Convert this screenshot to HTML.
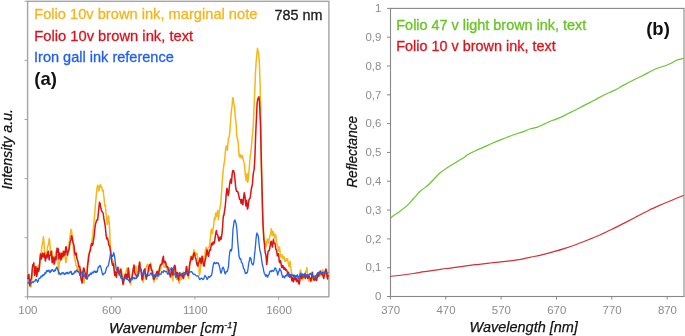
<!DOCTYPE html>
<html><head><meta charset="utf-8"><style>
html,body{margin:0;padding:0;background:#fff;width:685px;height:336px;overflow:hidden}
svg{display:block;will-change:transform}
text{font-family:"Liberation Sans",sans-serif}
.tk{font-size:10.9px;fill:#8c8c8c}
.lg{font-size:15px;stroke-width:0.3px}
.pl{font-size:18.5px;font-weight:bold;fill:#111}
.ax{font-size:14.5px;font-style:italic;fill:#111;stroke:#111;stroke-width:0.25px}
</style></head><body>
<svg width="685" height="336" viewBox="0 0 685 336">
<rect width="685" height="336" fill="#fff"/>
<rect x="27.6" y="1.3" width="301.29999999999995" height="295.5" fill="none" stroke="#a6a6a6" stroke-width="1.45"/>
<line x1="24.5" y1="1.30" x2="27.6" y2="1.30" stroke="#a6a6a6" stroke-width="1"/>
<line x1="24.5" y1="60.40" x2="27.6" y2="60.40" stroke="#a6a6a6" stroke-width="1"/>
<line x1="24.5" y1="119.50" x2="27.6" y2="119.50" stroke="#a6a6a6" stroke-width="1"/>
<line x1="24.5" y1="178.60" x2="27.6" y2="178.60" stroke="#a6a6a6" stroke-width="1"/>
<line x1="24.5" y1="237.70" x2="27.6" y2="237.70" stroke="#a6a6a6" stroke-width="1"/>
<line x1="24.5" y1="296.80" x2="27.6" y2="296.80" stroke="#a6a6a6" stroke-width="1"/>
<line x1="27.50" y1="296.8" x2="27.50" y2="299.5" stroke="#a6a6a6" stroke-width="1"/>
<text transform="translate(27.90,314.0) scale(1.06,1)" text-anchor="middle" class="tk">100</text>
<line x1="111.20" y1="296.8" x2="111.20" y2="299.5" stroke="#a6a6a6" stroke-width="1"/>
<text transform="translate(111.60,314.0) scale(1.06,1)" text-anchor="middle" class="tk">600</text>
<line x1="194.90" y1="296.8" x2="194.90" y2="299.5" stroke="#a6a6a6" stroke-width="1"/>
<text transform="translate(195.30,314.0) scale(1.06,1)" text-anchor="middle" class="tk">1100</text>
<line x1="278.60" y1="296.8" x2="278.60" y2="299.5" stroke="#a6a6a6" stroke-width="1"/>
<text transform="translate(279.00,314.0) scale(1.06,1)" text-anchor="middle" class="tk">1600</text>
<path d="M27.50,283.00 L28.00,283.10 L28.63,282.50 L29.27,285.13 L29.90,284.10 L30.40,284.43 L30.90,287.00 L31.53,282.98 L32.17,274.59 L32.80,270.60 L33.43,271.93 L34.07,271.25 L34.70,272.50 L35.37,272.34 L36.03,267.67 L36.70,266.70 L37.15,269.08 L37.60,269.60 L38.27,265.34 L38.93,266.33 L39.60,262.80 L40.25,256.18 L40.90,253.10 L41.43,251.17 L41.97,245.21 L42.50,243.50 L42.95,240.91 L43.40,236.70 L43.90,241.51 L44.40,249.30 L44.90,253.02 L45.40,253.10 L45.85,252.77 L46.30,255.10 L46.80,253.84 L47.30,249.30 L47.80,245.81 L48.30,245.40 L48.75,242.69 L49.20,238.60 L49.70,241.29 L50.20,247.30 L50.70,252.63 L51.20,255.10 L51.65,252.13 L52.10,251.20 L52.60,257.14 L53.10,261.80 L53.60,261.46 L54.10,264.75 L54.55,264.09 L55.00,260.90 L55.50,254.44 L56.00,251.20 L56.50,254.48 L57.00,254.10 L57.45,254.95 L57.90,259.00 L58.50,274.40 L59.30,262.80 L59.90,261.79 L60.50,257.00 L61.15,256.85 L61.80,259.00 L62.30,256.82 L62.80,251.20 L63.30,251.93 L63.80,255.10 L64.25,256.01 L64.70,253.10 L65.20,256.12 L65.70,262.80 L66.20,261.64 L66.70,259.00 L67.15,255.26 L67.60,253.10 L68.10,252.10 L68.60,249.30 L69.10,242.50 L69.60,239.60 L70.05,236.96 L70.50,231.90 L71.00,229.42 L71.50,229.90 L72.00,234.82 L72.50,237.70 L72.95,242.19 L73.40,249.30 L73.90,254.29 L74.40,257.00 L74.90,258.31 L75.40,261.80 L75.85,265.17 L76.30,265.70 L76.80,266.23 L77.30,269.60 L77.80,270.02 L78.30,266.70 L78.75,268.05 L79.20,272.50 L79.70,272.95 L80.20,269.60 L80.70,270.20 L81.20,274.40 L81.65,278.34 L82.10,278.30 L82.60,273.36 L83.10,271.50 L83.60,278.13 L84.10,283.10 L84.55,276.50 L85.00,273.50 L85.50,276.90 L86.00,276.40 L86.50,272.58 L87.00,272.50 L87.45,267.15 L87.90,259.00 L88.40,255.45 L88.90,255.10 L89.40,254.05 L89.90,251.20 L90.53,246.20 L91.17,246.14 L91.80,241.50 L92.35,238.05 L92.90,236.60 L93.20,230.00 L94.00,221.70 L94.70,214.20 L95.40,205.30 L96.20,196.40 L96.90,188.90 L97.70,185.20 L98.40,187.40 L98.90,191.20 L99.60,186.00 L100.00,185.94 L100.40,184.50 L101.10,187.40 L101.70,186.70 L102.40,191.20 L103.20,190.40 L103.60,194.90 L104.00,196.80 L104.40,202.30 L104.80,206.00 L105.40,205.30 L105.90,212.00 L106.60,217.20 L107.30,224.60 L108.10,218.70 L108.50,215.70 L109.10,221.70 L109.70,230.00 L110.30,246.00 L110.80,249.60 L111.45,256.99 L112.10,260.40 L112.75,260.48 L113.40,262.00 L114.10,266.00 L114.65,269.72 L115.20,270.00 L115.80,270.18 L116.40,272.70 L117.15,270.56 L117.90,266.80 L118.60,268.39 L119.30,272.00 L120.05,272.58 L120.80,269.80 L121.55,271.08 L122.30,276.00 L123.05,280.26 L123.80,283.20 L124.55,277.14 L125.30,274.00 L126.05,271.81 L126.80,268.30 L127.55,268.54 L128.30,272.00 L129.10,271.80 L129.85,279.16 L130.60,284.40 L131.35,277.77 L132.10,274.80 L132.85,273.77 L133.60,268.80 L134.33,266.49 L135.07,268.80 L135.80,265.80 L136.55,270.37 L137.30,277.00 L138.05,275.11 L138.80,271.80 L139.40,265.91 L140.00,262.90 L140.75,267.99 L141.50,271.80 L142.10,274.39 L142.70,279.90 L143.30,282.20 L144.05,275.15 L144.80,271.00 L145.53,269.97 L146.25,267.30 L146.97,265.14 L147.70,264.30 L148.45,269.46 L149.20,271.00 L149.95,265.91 L150.70,262.90 L151.45,268.19 L152.20,269.60 L152.80,271.94 L153.40,279.13 L154.00,282.20 L154.75,277.26 L155.50,274.80 L156.25,278.33 L157.00,279.20 L157.63,274.50 L158.27,274.23 L158.90,269.60 L159.65,268.57 L160.40,270.30 L161.15,266.57 L161.90,259.90 L162.65,260.18 L163.40,264.30 L164.15,267.11 L164.90,267.30 L165.60,264.60 L166.30,264.30 L167.05,269.26 L167.80,271.00 L168.55,268.42 L169.30,267.70 L169.90,273.67 L170.50,277.60 L171.05,271.93 L171.60,270.20 L172.25,276.83 L172.90,280.80 L173.55,272.88 L174.20,267.70 L174.80,270.77 L175.40,272.60 L175.95,274.72 L176.50,279.20 L177.15,279.36 L177.80,276.70 L178.45,279.37 L179.10,283.30 L179.70,281.46 L180.30,276.70 L180.85,276.46 L181.40,279.20 L182.05,277.43 L182.70,274.30 L183.35,271.97 L184.00,272.60 L184.60,275.10 L185.20,275.10 L185.75,271.10 L186.30,270.20 L186.80,273.34 L187.30,274.30 L187.90,274.76 L188.50,278.40 L189.05,273.88 L189.60,266.10 L190.10,260.57 L190.60,256.30 L191.15,258.58 L191.70,259.50 L192.30,255.50 L192.90,254.60 L193.40,254.10 L193.90,249.70 L194.45,251.20 L195.00,254.60 L195.60,255.04 L196.20,253.00 L196.85,253.22 L197.50,256.30 L198.05,261.00 L198.60,263.60 L199.00,268.24 L199.40,275.10 L199.90,273.29 L200.40,269.40 L201.00,263.33 L201.60,259.50 L202.15,259.33 L202.70,256.30 L203.20,258.13 L203.70,262.00 L204.25,260.28 L204.80,256.30 L205.40,250.12 L206.00,247.30 L206.65,249.99 L207.30,251.40 L207.95,247.95 L208.60,247.30 L209.15,247.28 L209.70,244.00 L210.40,238.50 L211.00,230.40 L211.70,229.10 L212.40,233.80 L212.85,229.77 L213.30,227.80 L213.85,223.66 L214.40,217.70 L215.00,219.70 L215.70,213.00 L216.25,212.97 L216.80,216.40 L217.25,214.33 L217.70,210.40 L218.40,219.70 L219.10,213.00 L219.70,209.00 L220.40,206.30 L221.00,200.20 L221.70,189.80 L222.40,179.30 L223.20,170.40 L223.72,165.84 L224.25,163.00 L224.68,160.06 L225.10,154.70 L225.70,148.67 L226.30,145.80 L226.85,148.79 L227.40,150.30 L227.95,143.10 L228.50,138.00 L229.05,137.37 L229.60,134.60 L230.30,125.70 L230.90,116.80 L231.35,110.58 L231.80,107.90 L232.25,104.06 L232.70,97.80 L233.15,98.25 L233.60,102.30 L234.05,104.79 L234.50,105.60 L235.20,116.80 L235.90,121.25 L236.32,126.85 L236.75,134.60 L237.18,138.36 L237.60,139.10 L238.05,141.16 L238.50,146.90 L238.95,153.18 L239.40,157.00 L239.85,154.93 L240.30,154.70 L240.85,157.12 L241.40,158.00 L242.00,155.56 L242.60,155.80 L243.15,159.47 L243.70,161.40 L244.25,163.42 L244.80,168.90 L245.50,176.40 L246.25,180.80 L247.00,173.40 L247.70,182.30 L248.10,181.12 L248.50,176.40 L249.20,168.90 L249.80,160.94 L250.40,154.70 L250.95,151.24 L251.50,145.80 L252.05,138.47 L252.60,134.60 L253.15,127.20 L253.70,116.80 L254.15,104.17 L254.60,95.00 L255.05,84.58 L255.50,72.00 L256.25,60.80 L256.88,53.77 L257.50,48.30 L258.00,51.16 L258.50,52.00 L259.20,60.80 L259.60,69.54 L260.00,81.70 L260.40,96.83 L260.80,110.00 L261.20,145.70 L261.90,190.00 L262.50,209.80 L262.95,217.82 L263.40,228.00 L263.80,234.83 L264.20,239.30 L264.95,241.96 L265.70,247.00 L266.20,246.27 L266.70,243.20 L267.20,239.36 L267.70,239.30 L268.15,242.07 L268.60,243.20 L269.30,238.74 L270.00,235.50 L270.60,234.02 L271.20,228.70 L271.65,230.27 L272.10,235.50 L272.60,235.53 L273.10,231.60 L273.75,233.29 L274.40,237.40 L274.90,237.88 L275.40,234.50 L275.90,236.00 L276.40,241.30 L276.85,244.11 L277.30,245.10 L277.80,246.41 L278.30,251.00 L278.80,250.77 L279.30,247.00 L279.75,248.87 L280.20,253.80 L280.70,256.60 L281.20,256.75 L281.70,254.77 L282.20,254.80 L282.65,257.83 L283.10,258.70 L283.60,256.81 L284.10,256.75 L284.60,259.87 L285.10,261.60 L285.73,259.21 L286.37,260.67 L287.00,258.70 L287.50,258.52 L288.00,261.80 L288.50,264.70 L289.00,266.60 L289.40,263.70 L290.10,261.30 L290.70,267.50 L291.30,271.30 L292.00,274.20 L292.40,275.81 L292.80,276.10 L293.50,275.10 L294.20,277.00 L294.90,276.10 L295.60,279.00 L296.40,277.00 L297.00,279.90 L297.70,278.00 L298.10,277.58 L298.50,280.90 L299.20,278.00 L299.90,273.20 L300.40,269.90 L301.10,272.30 L301.80,277.00 L302.50,279.90 L303.20,278.00 L303.60,278.12 L304.00,275.10 L304.70,277.00 L305.30,274.20 L305.70,271.36 L306.10,272.30 L306.90,267.50 L307.50,273.20 L308.20,277.00 L308.60,280.81 L309.00,280.90 L309.70,279.00 L310.10,281.80 L310.90,279.90 L311.60,281.30 L312.30,279.00 L312.75,276.14 L313.20,277.00 L313.70,279.16 L314.20,278.50 L314.65,276.68 L315.10,276.10 L315.60,278.44 L316.10,277.50 L316.55,275.46 L317.00,275.10 L317.50,277.07 L318.00,277.00 L318.50,273.57 L319.00,273.20 L319.45,275.98 L319.90,276.10 L320.40,273.72 L320.90,273.70 L321.35,274.91 L321.80,272.30 L322.30,269.64 L322.80,269.90 L323.25,273.38 L323.70,274.70 L324.20,272.05 L324.70,271.30 L325.15,274.31 L325.60,273.70 L326.10,274.08 L326.60,277.00 L327.05,277.30 L327.50,274.20 L328.00,273.81 L328.50,275.60" fill="none" stroke="#F7B718" stroke-width="1.5" stroke-linejoin="round"/>
<path d="M27.50,279.00 L28.00,278.30 L28.45,274.88 L28.90,274.40 L29.40,281.84 L29.90,286.00 L30.40,280.94 L30.90,279.30 L31.35,278.77 L31.80,274.40 L32.30,267.94 L32.80,264.75 L33.30,265.67 L33.80,262.80 L34.25,268.46 L34.70,275.40 L35.20,272.30 L35.70,266.70 L36.20,269.63 L36.70,276.40 L37.15,274.01 L37.60,268.60 L38.10,268.19 L38.60,271.50 L39.10,269.36 L39.60,265.70 L40.05,258.64 L40.50,254.10 L41.00,257.50 L41.50,259.00 L42.00,254.69 L42.50,253.10 L42.95,256.45 L43.40,257.00 L43.90,254.43 L44.40,253.10 L44.90,257.90 L45.40,260.90 L45.85,257.01 L46.30,255.10 L46.80,257.93 L47.30,257.00 L47.80,252.43 L48.30,251.20 L48.75,256.37 L49.20,259.90 L49.70,255.78 L50.20,255.10 L50.70,253.94 L51.20,251.20 L51.65,255.54 L52.10,262.80 L52.60,260.68 L53.10,257.00 L53.60,259.80 L54.10,263.80 L54.55,262.22 L55.00,257.00 L55.50,257.56 L56.00,259.90 L56.50,255.00 L57.00,248.30 L57.45,248.27 L57.90,252.20 L58.40,249.00 L58.90,259.00 L59.40,257.87 L59.90,253.10 L60.40,255.49 L60.90,259.90 L61.35,258.45 L61.80,253.10 L62.30,253.70 L62.80,257.00 L63.30,255.65 L63.80,251.20 L64.25,252.26 L64.70,255.10 L65.20,253.12 L65.70,247.30 L66.20,246.73 L66.70,249.30 L67.15,254.15 L67.60,255.10 L68.10,251.30 L68.60,251.20 L69.10,249.32 L69.60,245.40 L70.05,242.34 L70.50,241.50 L71.00,239.43 L71.50,235.70 L72.00,236.85 L72.50,239.60 L72.95,242.24 L73.40,243.50 L73.90,245.38 L74.40,249.30 L74.90,253.64 L75.40,255.10 L75.85,253.50 L76.30,253.10 L76.80,258.05 L77.30,259.90 L77.80,260.78 L78.30,263.80 L78.75,266.28 L79.20,266.70 L79.70,266.40 L80.20,269.60 L80.70,276.17 L81.20,280.20 L81.65,280.61 L82.10,283.10 L82.60,278.12 L83.10,270.60 L83.60,268.01 L84.10,268.60 L84.55,271.23 L85.00,272.50 L85.50,273.43 L86.00,278.30 L86.50,276.98 L87.00,274.40 L87.45,266.95 L87.90,262.80 L88.40,260.73 L88.90,255.10 L89.40,252.52 L89.90,251.20 L90.35,250.95 L90.80,247.30 L91.30,244.29 L91.80,243.50 L92.35,245.31 L92.90,244.30 L93.35,240.79 L93.80,238.50 L94.25,234.92 L94.70,230.00 L95.40,224.60 L96.20,221.70 L96.70,220.10 L97.20,220.20 L97.65,219.89 L98.10,215.70 L98.70,209.80 L99.50,202.30 L100.20,203.80 L100.90,208.30 L101.70,211.25 L102.40,212.00 L103.20,213.50 L103.90,218.70 L104.70,223.20 L105.15,225.72 L105.60,230.00 L106.20,236.11 L106.80,238.90 L107.50,238.05 L108.20,241.00 L108.95,245.42 L109.70,246.00 L110.40,251.20 L111.20,256.40 L111.90,262.30 L112.60,265.30 L113.00,263.47 L113.40,263.80 L114.10,269.80 L114.50,273.85 L114.90,275.70 L115.60,272.00 L116.00,273.27 L116.40,277.20 L117.10,272.00 L117.50,271.44 L117.90,267.50 L118.60,272.00 L119.30,275.00 L120.10,271.25 L120.80,269.00 L121.60,275.00 L122.30,279.40 L123.10,284.60 L123.80,279.40 L124.60,276.50 L125.30,274.20 L126.00,278.00 L126.80,274.20 L127.50,278.00 L127.95,272.25 L128.40,268.00 L129.15,276.75 L129.90,282.20 L130.65,278.98 L131.40,279.20 L132.15,276.90 L132.90,271.00 L133.45,267.40 L134.00,265.10 L134.55,271.47 L135.10,274.00 L135.85,274.77 L136.60,277.00 L137.35,276.58 L138.10,274.00 L138.82,266.59 L139.55,262.10 L140.07,267.34 L140.60,268.80 L141.35,273.32 L142.10,280.00 L142.70,278.89 L143.30,274.00 L144.05,270.04 L144.80,268.80 L145.53,275.04 L146.25,279.20 L146.82,275.96 L147.40,274.80 L148.15,271.55 L148.90,266.60 L149.65,264.74 L150.40,264.30 L150.95,268.11 L151.50,270.30 L152.20,270.99 L152.90,274.80 L153.45,279.00 L154.00,279.20 L154.60,277.27 L155.20,277.00 L155.95,275.07 L156.70,271.80 L157.45,271.32 L158.20,274.80 L158.90,272.75 L159.60,268.00 L160.35,264.98 L161.10,264.30 L161.70,264.53 L162.30,262.90 L162.85,258.12 L163.40,256.20 L163.90,261.31 L164.40,262.90 L165.00,261.26 L165.60,262.10 L166.35,265.89 L167.10,267.30 L167.55,266.82 L168.00,267.70 L168.65,272.48 L169.30,273.50 L169.90,274.45 L170.50,276.70 L171.05,274.34 L171.60,269.40 L172.25,270.48 L172.90,275.10 L173.55,271.38 L174.20,266.10 L174.80,265.28 L175.40,267.70 L175.95,273.73 L176.50,275.90 L177.00,272.77 L177.50,272.60 L178.05,278.00 L178.60,280.00 L179.20,275.55 L179.80,272.60 L180.45,275.46 L181.10,275.90 L181.75,273.89 L182.40,273.50 L182.95,277.73 L183.50,278.40 L184.10,275.34 L184.70,274.30 L185.35,273.48 L186.00,270.20 L186.40,266.55 L186.80,266.90 L187.60,275.10 L188.25,275.64 L188.90,272.60 L189.50,265.33 L190.10,262.00 L190.65,260.78 L191.20,257.10 L191.70,257.02 L192.20,259.50 L192.80,259.12 L193.40,255.50 L193.95,252.98 L194.50,253.00 L195.00,256.46 L195.50,257.90 L196.05,259.18 L196.60,262.80 L197.20,265.26 L197.80,266.10 L198.30,262.92 L198.80,262.00 L199.35,261.93 L199.90,257.90 L200.50,258.81 L201.10,263.60 L201.55,261.43 L202.00,256.30 L202.60,258.65 L203.20,263.60 L203.75,265.92 L204.30,266.10 L204.80,262.08 L205.30,259.50 L205.90,257.23 L206.50,253.00 L206.90,250.06 L207.30,250.50 L207.95,255.21 L208.60,256.30 L209.15,251.89 L209.70,249.70 L210.30,250.20 L210.90,247.30 L211.45,243.57 L212.00,243.20 L212.57,244.97 L213.13,242.07 L213.70,243.80 L214.35,242.81 L215.00,238.50 L215.70,233.34 L216.40,230.40 L216.85,234.04 L217.30,234.50 L217.85,235.51 L218.40,238.50 L218.95,240.78 L219.50,240.50 L219.95,237.12 L220.40,237.10 L220.85,239.37 L221.30,238.50 L222.10,233.10 L222.70,225.10 L223.10,219.04 L223.50,215.00 L223.95,215.27 L224.40,211.70 L225.10,207.70 L225.80,200.00 L226.20,194.20 L226.90,188.30 L227.50,190.49 L228.10,195.70 L228.60,194.16 L229.10,189.80 L229.50,185.43 L229.90,182.30 L230.60,179.30 L231.00,182.57 L231.40,183.10 L232.10,174.90 L232.50,171.70 L232.90,170.40 L233.60,170.70 L234.30,173.40 L235.10,180.80 L235.80,188.30 L236.55,191.32 L237.30,191.25 L238.05,192.23 L238.80,195.70 L239.55,199.29 L240.30,199.40 L241.00,203.20 L241.40,199.79 L241.80,199.40 L242.50,204.60 L242.90,204.47 L243.30,200.90 L243.80,195.71 L244.30,192.70 L245.10,197.20 L245.55,203.15 L246.00,206.10 L246.50,200.20 L246.95,203.02 L247.40,209.10 L247.95,207.91 L248.50,203.20 L249.00,199.86 L249.50,198.70 L250.10,198.23 L250.70,194.20 L251.30,188.68 L251.90,186.80 L252.40,183.91 L252.90,177.90 L253.45,172.18 L254.00,170.40 L254.50,164.64 L255.00,155.00 L255.55,138.57 L256.10,124.80 L256.60,115.44 L257.10,103.40 L257.65,99.87 L258.20,98.00 L258.60,99.12 L259.00,96.70 L259.40,100.81 L259.80,108.75 L260.50,125.00 L260.90,143.60 L261.50,170.00 L262.20,195.00 L262.80,220.00 L263.30,230.92 L263.80,239.30 L264.30,242.58 L264.80,249.00 L265.25,253.01 L265.70,253.80 L266.20,257.53 L266.70,264.50 L267.20,260.49 L267.70,254.80 L268.15,251.21 L268.60,251.00 L269.30,250.41 L270.00,247.00 L270.60,242.62 L271.20,241.30 L271.85,245.34 L272.50,247.00 L273.00,241.68 L273.50,239.30 L273.95,242.93 L274.40,243.20 L274.90,243.16 L275.40,246.10 L275.90,249.66 L276.40,250.00 L276.85,252.26 L277.30,255.80 L277.80,255.62 L278.30,253.80 L278.80,256.48 L279.30,261.60 L279.75,262.61 L280.20,260.60 L280.70,261.64 L281.20,264.50 L281.70,267.51 L282.20,267.40 L282.65,265.42 L283.10,266.40 L283.60,268.51 L284.10,269.30 L284.60,267.59 L285.10,268.40 L285.73,270.28 L286.37,269.66 L287.00,271.30 L287.50,272.59 L288.00,272.30 L288.50,272.21 L289.00,274.20 L289.45,276.45 L289.90,277.00 L290.30,274.98 L290.70,274.70 L291.30,278.00 L292.00,280.90 L292.40,279.85 L292.80,277.50 L293.50,281.80 L294.20,279.00 L294.90,277.00 L295.60,279.90 L296.40,278.50 L297.00,281.80 L297.70,279.90 L298.10,280.10 L298.50,282.80 L299.20,284.20 L299.80,280.90 L300.40,277.00 L301.10,275.10 L301.80,278.50 L302.50,275.60 L303.20,277.00 L303.60,276.73 L304.00,274.20 L304.70,275.60 L305.30,278.50 L305.70,276.09 L306.10,276.60 L306.90,274.70 L307.50,278.50 L308.00,278.48 L308.50,275.60 L308.95,275.37 L309.40,277.00 L310.10,278.50 L310.90,280.90 L311.60,277.00 L312.30,272.30 L313.00,276.10 L313.70,279.90 L314.10,280.31 L314.50,277.00 L315.10,279.90 L315.80,278.00 L316.20,278.60 L316.60,280.40 L317.30,277.00 L318.00,274.20 L318.70,276.10 L319.40,272.30 L319.80,272.77 L320.20,270.90 L320.90,273.20 L321.50,274.70 L321.90,272.96 L322.30,273.20 L323.00,276.10 L323.70,278.50 L324.40,275.10 L325.10,272.30 L325.90,269.00 L326.60,271.30 L327.00,275.60 L327.50,279.00 L328.00,276.10 L328.50,275.00" fill="none" stroke="#DC1414" stroke-width="1.5" stroke-linejoin="round"/>
<path d="M27.50,283.00 L28.00,283.10 L28.73,282.52 L29.45,283.55 L30.17,282.27 L30.90,283.10 L31.53,283.19 L32.17,281.76 L32.80,282.20 L33.43,282.48 L34.07,281.16 L34.70,281.20 L35.20,280.97 L35.70,279.30 L36.20,279.39 L36.70,280.20 L37.60,282.20 L38.10,281.41 L38.60,279.30 L39.23,278.25 L39.87,278.37 L40.50,277.30 L41.17,276.01 L41.83,277.00 L42.50,275.40 L43.13,274.64 L43.77,275.24 L44.40,274.40 L45.03,272.62 L45.67,273.53 L46.30,271.50 L46.97,270.43 L47.63,271.54 L48.30,270.60 L48.93,270.15 L49.57,272.23 L50.20,272.50 L50.83,270.54 L51.47,271.12 L52.10,269.60 L52.77,269.79 L53.43,271.29 L54.10,271.50 L54.73,269.97 L55.37,270.53 L56.00,268.60 L56.50,267.43 L57.00,267.20 L57.50,269.18 L58.00,269.60 L58.90,273.50 L59.57,272.98 L60.23,274.72 L60.90,274.40 L61.53,273.01 L62.17,273.51 L62.80,272.50 L63.43,272.76 L64.07,274.26 L64.70,274.40 L65.37,272.91 L66.03,273.79 L66.70,272.50 L67.33,272.26 L67.97,273.95 L68.60,273.50 L69.23,272.15 L69.87,272.73 L70.50,271.50 L71.17,271.52 L71.83,274.30 L72.50,274.40 L73.13,273.25 L73.77,273.91 L74.40,272.50 L75.03,271.13 L75.67,272.24 L76.30,270.60 L76.97,270.01 L77.63,271.75 L78.30,271.50 L79.05,272.37 L79.80,275.40 L80.50,274.87 L81.20,273.50 L82.10,271.50 L82.60,272.80 L83.10,275.40 L83.60,276.81 L84.10,276.40 L84.55,274.95 L85.00,274.40 L85.50,277.06 L86.00,278.30 L86.50,278.44 L87.00,279.30 L87.45,278.69 L87.90,276.40 L88.57,274.81 L89.23,275.84 L89.90,274.40 L90.53,273.10 L91.17,274.37 L91.80,273.50 L92.35,272.08 L92.90,272.40 L93.53,272.85 L94.17,270.96 L94.80,271.40 L95.43,272.41 L96.07,271.09 L96.70,272.40 L97.37,271.52 L98.03,267.84 L98.70,266.60 L99.35,266.79 L100.00,265.30 L100.75,267.17 L101.50,269.80 L102.25,273.27 L103.00,275.00 L103.75,273.42 L104.50,273.50 L105.25,272.74 L106.00,269.80 L106.70,267.34 L107.40,266.80 L108.00,266.25 L108.60,264.60 L109.15,261.32 L109.70,259.30 L110.40,254.10 L111.00,255.34 L111.60,254.90 L112.10,255.30 L112.60,256.40 L113.15,255.19 L113.70,252.60 L114.60,256.40 L115.30,262.30 L116.10,268.30 L116.60,268.94 L117.10,270.50 L117.85,271.67 L118.60,272.00 L119.35,273.12 L120.10,275.00 L120.85,277.77 L121.60,278.70 L122.35,279.02 L123.10,280.20 L123.85,280.32 L124.60,279.40 L125.30,277.67 L126.00,277.20 L126.75,279.30 L127.50,279.40 L128.25,279.81 L129.00,281.00 L129.73,281.24 L130.47,279.38 L131.20,279.70 L131.93,279.98 L132.67,277.27 L133.40,277.50 L134.13,278.86 L134.87,277.69 L135.60,278.60 L136.37,278.48 L137.13,276.46 L137.90,276.30 L138.63,274.71 L139.37,270.03 L140.10,268.50 L140.65,269.50 L141.20,269.60 L141.75,271.93 L142.30,275.20 L143.07,274.61 L143.83,272.49 L144.60,271.90 L145.33,274.07 L146.07,274.05 L146.80,276.30 L147.53,276.47 L148.27,275.23 L149.00,275.20 L149.75,275.12 L150.50,273.12 L151.25,273.00 L152.00,275.27 L152.75,274.94 L153.50,277.50 L154.23,277.23 L154.97,274.51 L155.70,274.10 L156.43,275.64 L157.17,274.72 L157.90,276.30 L158.67,275.94 L159.43,273.81 L160.20,274.10 L160.93,274.30 L161.67,271.63 L162.40,271.90 L163.13,272.48 L163.87,270.53 L164.60,270.80 L165.37,271.80 L166.13,271.12 L166.90,271.90 L167.45,273.92 L168.00,274.30 L168.80,271.87 L169.60,270.20 L170.45,269.33 L171.30,267.70 L171.95,268.06 L172.60,269.40 L173.40,271.90 L174.20,273.50 L175.05,274.96 L175.90,277.60 L176.70,276.32 L177.50,274.30 L178.30,273.57 L179.10,273.50 L179.95,274.75 L180.80,275.10 L181.60,274.29 L182.40,274.30 L183.20,274.06 L184.00,272.60 L184.85,272.70 L185.70,273.50 L186.50,273.90 L187.30,272.30 L188.10,271.25 L188.90,271.80 L189.75,272.24 L190.60,271.80 L191.40,271.53 L192.20,272.30 L193.05,273.90 L193.90,274.30 L194.70,274.09 L195.50,275.10 L196.30,275.92 L197.10,275.90 L197.95,275.77 L198.80,277.60 L199.60,279.49 L200.40,279.20 L201.20,278.11 L202.00,278.40 L202.85,279.50 L203.70,279.20 L204.25,277.15 L204.80,275.90 L205.00,275.30 L205.50,276.46 L206.00,276.80 L206.50,277.51 L207.00,279.40 L207.50,279.18 L208.00,277.90 L208.50,276.38 L209.00,276.80 L209.55,277.25 L210.10,276.80 L210.60,275.95 L211.10,275.80 L211.60,275.11 L212.10,272.30 L212.90,267.20 L213.60,263.70 L214.10,262.46 L214.60,262.70 L215.10,263.64 L215.60,263.70 L216.10,262.70 L216.60,263.20 L217.15,263.30 L217.70,262.70 L218.40,263.20 L219.20,265.70 L219.70,267.26 L220.20,270.30 L221.00,273.30 L221.70,271.30 L222.40,268.20 L223.20,267.20 L224.00,269.30 L224.70,272.80 L225.20,273.88 L225.70,272.80 L226.25,271.31 L226.80,271.80 L227.30,271.67 L227.80,269.80 L228.50,266.20 L229.10,258.10 L229.80,252.00 L230.50,249.50 L231.30,251.00 L232.00,248.00 L232.50,237.97 L233.00,229.00 L233.50,226.11 L234.00,222.00 L234.50,220.54 L235.00,220.00 L235.50,222.42 L236.00,223.00 L236.50,226.26 L237.00,231.00 L237.50,238.93 L238.00,245.00 L238.50,249.92 L239.00,256.00 L239.50,258.00 L240.00,259.00 L240.50,258.55 L241.00,260.00 L241.50,262.59 L242.00,263.00 L242.50,263.51 L243.00,266.00 L243.50,268.45 L244.00,269.00 L244.50,269.54 L245.00,272.00 L245.50,273.60 L246.00,273.40 L246.50,272.70 L247.00,273.00 L247.50,271.73 L248.00,269.00 L248.50,264.90 L249.00,262.00 L249.50,260.05 L250.00,257.40 L250.50,257.85 L251.00,259.00 L251.50,262.05 L252.00,264.00 L252.50,263.97 L253.00,265.00 L253.50,263.86 L254.00,261.00 L254.50,254.93 L255.00,251.00 L255.50,245.67 L256.00,239.00 L256.50,234.95 L257.00,233.00 L257.50,235.09 L258.00,235.00 L258.50,237.93 L259.00,243.00 L259.50,247.61 L260.00,251.00 L260.50,252.50 L261.00,255.00 L261.90,261.60 L262.35,264.50 L262.80,266.40 L263.30,268.37 L263.80,271.30 L264.30,273.24 L264.80,274.20 L265.70,276.10 L266.20,274.79 L266.70,275.10 L267.20,277.12 L267.70,277.10 L268.15,275.12 L268.60,275.10 L269.10,274.35 L269.60,272.20 L270.10,270.92 L270.60,271.30 L271.25,271.75 L271.90,270.30 L272.50,270.40 L273.10,271.30 L273.75,271.14 L274.40,269.30 L275.10,267.82 L275.80,268.40 L276.40,270.78 L277.00,271.30 L277.70,275.10 L278.30,272.29 L278.90,271.30 L279.70,268.40 L280.25,270.05 L280.80,270.30 L281.50,272.73 L282.20,276.10 L282.83,277.37 L283.47,276.18 L284.10,277.10 L284.73,277.71 L285.37,275.36 L286.00,276.10 L286.70,275.28 L287.40,273.20 L288.00,276.10 L288.80,274.70 L289.40,277.00 L290.10,275.60 L290.90,274.20 L291.60,276.60 L292.30,275.10 L293.00,274.70 L293.70,276.60 L294.50,275.10 L295.10,277.00 L295.80,275.60 L296.60,276.60 L297.30,274.70 L298.00,277.00 L298.70,279.00 L299.20,277.00 L299.90,274.70 L300.60,273.20 L301.30,275.60 L302.10,273.70 L302.80,275.10 L303.40,277.00 L304.20,274.70 L305.00,273.20 L305.60,275.10 L306.10,274.96 L306.60,276.10 L307.50,274.70 L308.00,275.96 L308.50,275.10 L309.40,274.20 L309.90,273.70 L310.40,273.31 L310.90,274.70 L311.35,274.66 L311.80,273.70 L312.30,274.22 L312.80,275.60 L313.70,278.00 L314.20,278.20 L314.70,277.50 L315.15,275.77 L315.60,276.10 L316.10,276.35 L316.60,274.70 L317.50,273.20 L318.00,272.31 L318.50,272.30 L319.40,272.80 L319.90,273.52 L320.40,272.30 L320.85,271.92 L321.30,273.70 L321.80,273.84 L322.30,272.30 L323.20,273.20 L323.70,272.15 L324.20,272.30 L324.65,273.50 L325.10,273.20 L325.60,272.57 L326.10,272.80 L327.00,273.20 L327.50,273.34 L328.00,272.80 L328.50,273.00" fill="none" stroke="#2062EE" stroke-width="1.3" stroke-linejoin="round"/>
<rect x="390.5" y="8.4" width="293.5" height="288.1" fill="none" stroke="#878787" stroke-width="1.1"/>
<line x1="387" y1="296.50" x2="390.5" y2="296.50" stroke="#878787" stroke-width="1"/>
<text transform="translate(381.4,300.30) scale(1.05,1)" text-anchor="end" class="tk">0</text>
<line x1="387" y1="267.69" x2="390.5" y2="267.69" stroke="#878787" stroke-width="1"/>
<text transform="translate(381.4,271.49) scale(1.05,1)" text-anchor="end" class="tk">0,1</text>
<line x1="387" y1="238.88" x2="390.5" y2="238.88" stroke="#878787" stroke-width="1"/>
<text transform="translate(381.4,242.68) scale(1.05,1)" text-anchor="end" class="tk">0,2</text>
<line x1="387" y1="210.07" x2="390.5" y2="210.07" stroke="#878787" stroke-width="1"/>
<text transform="translate(381.4,213.87) scale(1.05,1)" text-anchor="end" class="tk">0,3</text>
<line x1="387" y1="181.26" x2="390.5" y2="181.26" stroke="#878787" stroke-width="1"/>
<text transform="translate(381.4,185.06) scale(1.05,1)" text-anchor="end" class="tk">0,4</text>
<line x1="387" y1="152.45" x2="390.5" y2="152.45" stroke="#878787" stroke-width="1"/>
<text transform="translate(381.4,156.25) scale(1.05,1)" text-anchor="end" class="tk">0,5</text>
<line x1="387" y1="123.64" x2="390.5" y2="123.64" stroke="#878787" stroke-width="1"/>
<text transform="translate(381.4,127.44) scale(1.05,1)" text-anchor="end" class="tk">0,6</text>
<line x1="387" y1="94.83" x2="390.5" y2="94.83" stroke="#878787" stroke-width="1"/>
<text transform="translate(381.4,98.63) scale(1.05,1)" text-anchor="end" class="tk">0,7</text>
<line x1="387" y1="66.02" x2="390.5" y2="66.02" stroke="#878787" stroke-width="1"/>
<text transform="translate(381.4,69.82) scale(1.05,1)" text-anchor="end" class="tk">0,8</text>
<line x1="387" y1="37.21" x2="390.5" y2="37.21" stroke="#878787" stroke-width="1"/>
<text transform="translate(381.4,41.01) scale(1.05,1)" text-anchor="end" class="tk">0,9</text>
<line x1="387" y1="8.40" x2="390.5" y2="8.40" stroke="#878787" stroke-width="1"/>
<text transform="translate(381.4,12.20) scale(1.05,1)" text-anchor="end" class="tk">1</text>
<line x1="390.40" y1="296.5" x2="390.40" y2="299.5" stroke="#878787" stroke-width="1"/>
<text transform="translate(390.70,313.7) scale(1.05,1)" text-anchor="middle" class="tk">370</text>
<line x1="445.75" y1="296.5" x2="445.75" y2="299.5" stroke="#878787" stroke-width="1"/>
<text transform="translate(446.05,313.7) scale(1.05,1)" text-anchor="middle" class="tk">470</text>
<line x1="501.10" y1="296.5" x2="501.10" y2="299.5" stroke="#878787" stroke-width="1"/>
<text transform="translate(501.40,313.7) scale(1.05,1)" text-anchor="middle" class="tk">570</text>
<line x1="556.45" y1="296.5" x2="556.45" y2="299.5" stroke="#878787" stroke-width="1"/>
<text transform="translate(556.75,313.7) scale(1.05,1)" text-anchor="middle" class="tk">670</text>
<line x1="611.80" y1="296.5" x2="611.80" y2="299.5" stroke="#878787" stroke-width="1"/>
<text transform="translate(612.10,313.7) scale(1.05,1)" text-anchor="middle" class="tk">770</text>
<line x1="667.15" y1="296.5" x2="667.15" y2="299.5" stroke="#878787" stroke-width="1"/>
<text transform="translate(667.45,313.7) scale(1.05,1)" text-anchor="middle" class="tk">870</text>
<path d="M390.60,218.10 C391.15,217.62 392.60,216.13 393.90,215.20 C395.20,214.27 396.17,214.13 398.40,212.50 C400.63,210.87 404.70,207.82 407.30,205.40 C409.90,202.98 411.77,200.43 414.00,198.00 C416.23,195.57 418.47,192.85 420.70,190.80 C422.93,188.75 425.17,187.67 427.40,185.70 C429.63,183.73 431.87,181.23 434.10,179.00 C436.33,176.77 438.20,174.45 440.80,172.30 C443.40,170.15 446.72,168.03 449.70,166.10 C452.68,164.17 456.28,162.15 458.70,160.70 C461.12,159.25 462.70,158.42 464.20,157.40 C465.70,156.38 465.82,155.72 467.70,154.60 C469.58,153.48 472.92,151.90 475.50,150.70 C478.08,149.50 480.30,148.68 483.20,147.40 C486.10,146.12 489.67,144.38 492.90,143.00 C496.13,141.62 499.37,140.40 502.60,139.10 C505.83,137.80 509.08,136.37 512.30,135.20 C515.52,134.03 519.00,133.13 521.90,132.10 C524.80,131.07 527.12,129.83 529.70,129.00 C532.28,128.17 534.82,128.00 537.40,127.10 C539.98,126.20 542.62,124.73 545.20,123.60 C547.78,122.47 550.33,121.33 552.90,120.30 C555.47,119.27 558.02,118.53 560.60,117.40 C563.18,116.27 565.82,114.78 568.40,113.50 C570.98,112.22 573.38,111.10 576.10,109.70 C578.82,108.30 581.67,106.67 584.70,105.10 C587.73,103.53 591.08,101.98 594.30,100.30 C597.52,98.62 600.77,96.62 604.00,95.00 C607.23,93.38 610.48,92.20 613.70,90.60 C616.92,89.00 620.08,87.12 623.30,85.40 C626.52,83.68 629.77,81.95 633.00,80.30 C636.23,78.65 639.48,77.13 642.70,75.50 C645.92,73.87 649.73,71.75 652.30,70.50 C654.87,69.25 655.83,68.83 658.10,68.00 C660.37,67.17 663.63,66.33 665.90,65.50 C668.17,64.67 669.93,63.88 671.70,63.00 C673.47,62.12 674.73,60.92 676.50,60.20 C678.27,59.48 681.08,59.05 682.30,58.70 C683.52,58.35 683.55,58.20 683.80,58.10" fill="none" stroke="#6CC530" stroke-width="1.2" stroke-linejoin="round"/>
<path d="M390.50,276.30 C392.50,276.08 398.67,275.47 402.50,275.00 C406.33,274.53 409.85,274.05 413.50,273.50 C417.15,272.95 420.75,272.25 424.40,271.70 C428.05,271.15 431.75,270.73 435.40,270.20 C439.05,269.67 442.65,269.00 446.30,268.50 C449.95,268.00 453.65,267.68 457.30,267.20 C460.95,266.72 464.55,266.08 468.20,265.60 C471.85,265.12 475.55,264.73 479.20,264.30 C482.85,263.87 486.47,263.40 490.10,263.00 C493.73,262.60 497.35,262.30 501.00,261.90 C504.65,261.50 508.70,261.03 512.00,260.60 C515.30,260.17 517.80,259.85 520.80,259.30 C523.80,258.75 526.48,258.05 530.00,257.30 C533.52,256.55 537.93,255.73 541.90,254.80 C545.87,253.87 549.83,252.82 553.80,251.70 C557.77,250.58 561.73,249.38 565.70,248.10 C569.67,246.82 573.63,245.47 577.60,244.00 C581.57,242.53 585.53,240.92 589.50,239.30 C593.47,237.68 597.43,236.08 601.40,234.30 C605.37,232.52 609.33,230.55 613.30,228.60 C617.27,226.65 621.23,224.63 625.20,222.60 C629.17,220.57 633.13,218.47 637.10,216.40 C641.07,214.33 645.02,212.13 649.00,210.20 C652.98,208.27 657.02,206.53 661.00,204.80 C664.98,203.07 669.10,201.38 672.90,199.80 C676.70,198.22 681.98,196.05 683.80,195.30" fill="none" stroke="#D03236" stroke-width="1.2" stroke-linejoin="round"/>
<text x="34.2" y="19.1" textLength="223.2" lengthAdjust="spacingAndGlyphs" class="lg" fill="#F5B41C" stroke="#F5B41C">Folio 10v brown ink, marginal note</text>
<text x="34.2" y="41.0" textLength="159.0" lengthAdjust="spacingAndGlyphs" class="lg" fill="#D8141E" stroke="#D8141E">Folio 10v brown ink, text</text>
<text x="34.0" y="62.3" textLength="139.8" lengthAdjust="spacingAndGlyphs" class="lg" fill="#1F5FEF" stroke="#1F5FEF">Iron gall ink reference</text>
<text x="274.4" y="19.8" textLength="48.0" lengthAdjust="spacingAndGlyphs" class="lg" fill="#1a1a1a" stroke="#1a1a1a">785 nm</text>
<text x="396.3" y="29.6" textLength="190.0" lengthAdjust="spacingAndGlyphs" class="lg" fill="#66C420" stroke="#66C420">Folio 47 v light brown ink, text</text>
<text x="396.3" y="50.8" textLength="159.4" lengthAdjust="spacingAndGlyphs" class="lg" fill="#D8141E" stroke="#D8141E">Folio 10 v brown ink, text</text>
<text x="34.3" y="85.2" class="pl">(a)</text>
<text x="646.2" y="35.2" class="pl">(b)</text>
<text x="109" y="332.8" textLength="127.5" lengthAdjust="spacingAndGlyphs" class="ax">Wavenumber [cm<tspan dy="-5" font-size="9">-1</tspan><tspan dy="5">]</tspan></text>
<text x="469.6" y="332.2" textLength="108.3" lengthAdjust="spacingAndGlyphs" class="ax">Wavelength [nm]</text>
<text transform="translate(11.8,189.5) rotate(-90)" x="0" y="0" textLength="80.5" lengthAdjust="spacingAndGlyphs" class="ax">Intensity a.u.</text>
<text transform="translate(357.4,187.7) rotate(-90)" x="0" y="0" textLength="71.8" lengthAdjust="spacingAndGlyphs" class="ax">Reflectance</text>
</svg>
</body></html>
